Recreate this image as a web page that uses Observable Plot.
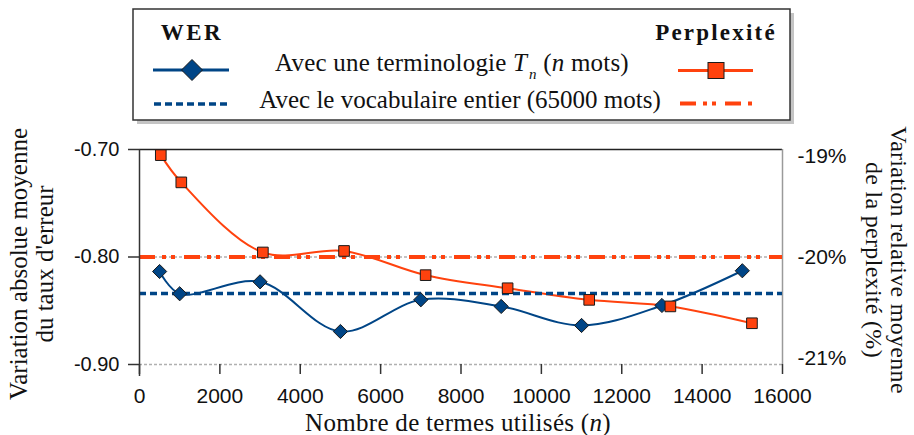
<!DOCTYPE html>
<html><head><meta charset="utf-8">
<script src="https://cdn.jsdelivr.net/npm/d3@7"></script>
<script src="https://cdn.jsdelivr.net/npm/@observablehq/plot@0.6"></script>
<style>
html,body{margin:0;padding:0;background:#fff;}
#chart{width:914px;height:435px;overflow:hidden;}
</style></head><body><div id="chart"></div>
<script>
// WER series (left axis)
const nTerms = [500, 1000, 3000, 5000, 7000, 9000, 11000, 13000, 15000];
const werValues = [-0.8135, -0.8342, -0.8231, -0.8693, -0.8398, -0.8460, -0.8637, -0.8451, -0.8128];
// Perplexity series (right axis, %)
const nTermsPpl = [530, 1040, 3070, 5090, 7120, 9160, 11190, 13210, 15240];
const pplValues = [-18.99, -19.26, -19.955, -19.94, -20.18, -20.31, -20.425, -20.49, -20.657];
// Full vocabulary references
const werFull = -0.834;
const pplFull = -20.0;
// Axes
const xTicks = [0, 2000, 4000, 6000, 8000, 10000, 12000, 14000, 16000];
const werTicks = [-0.90, -0.80, -0.70];
const pplTicks = [-21, -20, -19];
const werDomain = [-0.90, -0.70];
const pplDomain = [-21.066, -18.934];

const BLUE = "#004586", ORANGE = "#ff420e";
const SERIF = "'Liberation Serif', 'Times New Roman', serif";
const SANS = "'Liberation Sans', Arial, sans-serif";

const toWer = p => werDomain[0] + (p - pplDomain[0]) / (pplDomain[1] - pplDomain[0]) * (werDomain[1] - werDomain[0]);
const toPpl = w => pplDomain[0] + (w - werDomain[0]) / (werDomain[1] - werDomain[0]) * (pplDomain[1] - pplDomain[0]);

const wer = nTerms.map((n, i) => ({n, v: werValues[i]}));
const ppl = nTermsPpl.map((n, i) => ({n, v: toWer(pplValues[i])}));

const svg = Plot.plot({
  width: 914, height: 435,
  marginLeft: 139, marginRight: 132, marginTop: 149, marginBottom: 71,
  x: {domain: [0, 16000]},
  y: {domain: werDomain},
  marks: [
    Plot.ruleY([-0.80, -0.90], {stroke: "#b0b0b0", strokeWidth: 1.3, strokeDasharray: "3,2"}),
    Plot.ruleY([-0.70], {stroke: "#222", strokeWidth: 1.5}),
    Plot.ruleX([16000], {stroke: "#9a9a9a", strokeWidth: 1.5}),
    Plot.line(wer, {x: "n", y: "v", curve: "catmull-rom", stroke: BLUE, strokeWidth: 2}),
    Plot.line(ppl, {x: "n", y: "v", curve: "catmull-rom", stroke: ORANGE, strokeWidth: 2}),
    Plot.ruleY([werFull], {stroke: BLUE, strokeWidth: 3.5, strokeDasharray: "7,4"}),
    Plot.ruleY([toWer(pplFull)], {stroke: ORANGE, strokeWidth: 4, strokeDasharray: "16,7,4,5,4,9"}),
    Plot.dot(wer, {x: "n", y: "v", symbol: "diamond2", r: 6.4, fill: BLUE, stroke: "#1a1a1a", strokeWidth: 1}),
    Plot.dot(ppl, {x: "n", y: "v", symbol: "square", r: 6, fill: ORANGE, stroke: "#1a1a1a", strokeWidth: 1}),
    Plot.ruleX([0], {stroke: "#333", strokeWidth: 1.5, insetBottom: -12}),
    Plot.axisX({ticks: xTicks, tickSize: 10, tickPadding: 14, tickFormat: d => String(d),
      fontSize: 21, fontFamily: SANS, stroke: "#333", strokeWidth: 1.5, fill: "#111", label: null}),
    Plot.axisY({ticks: werTicks, tickSize: 11, tickPadding: 9, tickFormat: d => d.toFixed(2),
      fontSize: 20, fontFamily: SANS, stroke: "#333", strokeWidth: 1.5, fill: "#111", label: null}),
    Plot.axisY({anchor: "right", ticks: pplTicks.map(toWer), tickSize: 0, tickPadding: 15,
      tickFormat: d => Math.round(toPpl(d)) + "%", fontSize: 21, fontFamily: SANS, fill: "#111", label: null})
  ]
});
document.getElementById("chart").appendChild(svg);

// Titles and legend
const s = d3.select(svg);
const g = s.append("g").attr("font-family", SERIF).attr("fill", "#111");

// x title
const xt = g.append("text").attr("x", 458).attr("y", 431).attr("text-anchor", "middle")
  .attr("font-size", 25).attr("letter-spacing", 0.3);
xt.append("tspan").text("Nombre de termes utilisés (");
xt.append("tspan").attr("font-style", "italic").text("n");
xt.append("tspan").text(")");

// left title
g.append("text").attr("transform", "translate(27,264) rotate(-90)").attr("text-anchor", "middle")
  .attr("font-size", 25).text("Variation absolue moyenne");
g.append("text").attr("transform", "translate(53,264) rotate(-90)").attr("text-anchor", "middle")
  .attr("font-size", 25).text("du taux d'erreur");
// right title
g.append("text").attr("transform", "translate(891,260) rotate(90)").attr("text-anchor", "middle")
  .attr("font-size", 24).attr("letter-spacing", 0.3).text("Variation relative moyenne");
g.append("text").attr("transform", "translate(866,260) rotate(90)").attr("text-anchor", "middle")
  .attr("font-size", 24).attr("letter-spacing", 0.3).text("de la perplexité (%)");

// legend box
const lg = s.append("g");
lg.append("rect").attr("x", 137).attr("y", 13).attr("width", 657).attr("height", 111).attr("fill", "#c4c4c4");
lg.append("rect").attr("x", 133).attr("y", 9).attr("width", 657).attr("height", 111)
  .attr("fill", "#fff").attr("stroke", "#333").attr("stroke-width", 1.5);

lg.append("text").attr("x", 192).attr("y", 40).attr("text-anchor", "middle")
  .attr("font-family", SERIF).attr("font-weight", "bold").attr("font-size", 23)
  .attr("letter-spacing", 2.5).attr("fill", "#111").text("WER");
lg.append("text").attr("x", 716).attr("y", 40).attr("text-anchor", "middle")
  .attr("font-family", SERIF).attr("font-weight", "bold").attr("font-size", 23)
  .attr("letter-spacing", 2.2).attr("fill", "#111").text("Perplexité");

// row 1 symbols
lg.append("line").attr("x1", 153).attr("x2", 229).attr("y1", 70).attr("y2", 70)
  .attr("stroke", BLUE).attr("stroke-width", 3);
lg.append("path").attr("d", "M192,59.5L202.5,70L192,80.5L181.5,70Z")
  .attr("fill", BLUE).attr("stroke", "#1a1a1a").attr("stroke-width", 1);
lg.append("line").attr("x1", 678).attr("x2", 753).attr("y1", 70.5).attr("y2", 70.5)
  .attr("stroke", ORANGE).attr("stroke-width", 3);
lg.append("rect").attr("x", 708).attr("y", 62.5).attr("width", 16).attr("height", 16)
  .attr("fill", ORANGE).attr("stroke", "#1a1a1a").attr("stroke-width", 1);

// row 1 text
const t1 = lg.append("text").attr("x", 452).attr("y", 71).attr("text-anchor", "middle")
  .attr("font-family", SERIF).attr("font-size", 25).attr("letter-spacing", 0.2).attr("fill", "#111");
t1.append("tspan").text("Avec une terminologie ");
t1.append("tspan").attr("font-style", "italic").text("T");
t1.append("tspan").attr("font-style", "italic").attr("font-size", 15).attr("dx", 2).attr("dy", 8).text("n");
t1.append("tspan").attr("dy", -8).text(" (");
t1.append("tspan").attr("font-style", "italic").text("n");
t1.append("tspan").text(" mots)");

// row 2 symbols
lg.append("line").attr("x1", 154).attr("x2", 229).attr("y1", 104).attr("y2", 104)
  .attr("stroke", BLUE).attr("stroke-width", 3.5).attr("stroke-dasharray", "7,4");
lg.append("line").attr("x1", 680).attr("x2", 753).attr("y1", 103.5).attr("y2", 103.5)
  .attr("stroke", ORANGE).attr("stroke-width", 4).attr("stroke-dasharray", "16,7,4,5,4,9");

lg.append("text").attr("x", 460).attr("y", 107.5).attr("text-anchor", "middle")
  .attr("font-family", SERIF).attr("font-size", 25).attr("fill", "#111")
  .text("Avec le vocabulaire entier (65000 mots)");
</script></body></html>
